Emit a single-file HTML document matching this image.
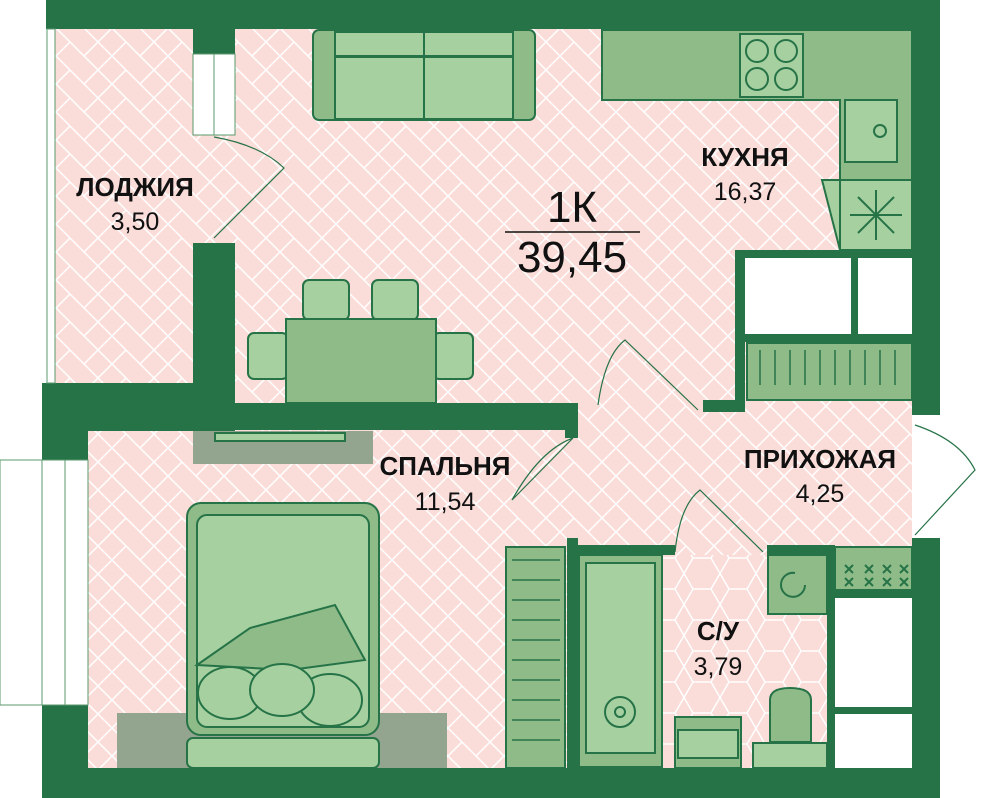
<!DOCTYPE html>
<html><head><meta charset="utf-8"><style>
html,body{margin:0;padding:0;background:#fff;width:1008px;height:798px;overflow:hidden}
svg{display:block}
text{font-family:"Liberation Sans",sans-serif}
</style></head><body>
<svg width="1008" height="798" viewBox="0 0 1008 798" xmlns="http://www.w3.org/2000/svg">
<defs>
<pattern id="hb" width="56" height="28" patternUnits="userSpaceOnUse">
<rect width="56" height="28" fill="#fadcd8"/>
<path d="M0 0 L28 28 L56 0 M0 -28 L28 0 L56 -28 M0 28 L28 56 L56 28 M14 14 L0 28 M42 14 L56 28 M28 0 L42 14" stroke="#fff" stroke-width="1.5" fill="none"/>
</pattern>
<pattern id="hex" width="36" height="31" patternUnits="userSpaceOnUse">
<rect width="36" height="31" fill="#fadcd8"/>
<path d="M0 15.5 L9 0 L27 0 L36 15.5 L27 31 L9 31 Z" stroke="#fff" stroke-width="1.5" fill="none"/>
</pattern>
</defs>
<rect x="55" y="28" width="860" height="740" fill="url(#hb)"/>
<rect x="578" y="555" width="250" height="213" fill="url(#hex)"/>
<rect x="835" y="555" width="77" height="213" fill="#fff"/>
<rect x="743" y="258" width="169" height="77" fill="#fff"/>
<rect x="912" y="415" width="30" height="125" fill="#fff"/>
<rect x="0" y="460" width="42" height="245" fill="#fff" stroke="#5a9a6c"/>
<g fill="#267347">
<rect x="46" y="0" width="894" height="29"/>
<rect x="912" y="0" width="28" height="415"/>
<rect x="912" y="538" width="28" height="260"/>
<rect x="42" y="768" width="898" height="30"/>
<rect x="42" y="383" width="46" height="415"/>
<rect x="42" y="383" width="193" height="48"/>
<rect x="193" y="29" width="42" height="25"/>
<rect x="193" y="243" width="42" height="188"/>
<rect x="235" y="403" width="343" height="27"/>
<rect x="565" y="430" width="13" height="8"/>
<rect x="735" y="250" width="177" height="8"/>
<rect x="735" y="250" width="10" height="162"/>
<rect x="703" y="400" width="42" height="12"/>
<rect x="851" y="258" width="7" height="77"/>
<rect x="745" y="334" width="167" height="8"/>
<rect x="567" y="545" width="108" height="10"/>
<rect x="567" y="538" width="11" height="230"/>
<rect x="767" y="545" width="68" height="10"/>
<rect x="827" y="545" width="8" height="223"/>
<rect x="835" y="590" width="77" height="8"/>
<rect x="835" y="707" width="77" height="7"/>
</g>
<rect x="47" y="29" width="8" height="354" fill="#fff" stroke="#5a9a6c"/>
<rect x="42" y="460" width="46" height="245" fill="#fff" stroke="#5a9a6c"/>
<line x1="65" y1="460" x2="65" y2="705" stroke="#5a9a6c"/>
<rect x="193" y="54" width="42" height="81" fill="#fff" stroke="#5a9a6c"/>
<line x1="214" y1="54" x2="214" y2="135" stroke="#5a9a6c"/>
<g stroke="#267347" fill="none" stroke-width="1.2">
<path d="M214 137 Q260 145 284 168 L214 238"/>
<path d="M598 405 Q605 355 625 340 L698 410"/>
<path d="M512 500 Q540 450 573 438 L512 500"/>
<path d="M675 552 Q680 505 700 490 L763 552"/>
<path d="M915 425 Q960 440 975 470 L915 535"/>
</g>
<g stroke="#267347" stroke-width="2">
<path d="M602 30 H912 V180 H840 V100 H602 Z" fill="#8fbb89"/>
<rect x="740" y="34" width="63" height="63" fill="#a6d09f"/>
<circle cx="757" cy="51" r="11" fill="none"/><circle cx="786" cy="51" r="11" fill="none"/>
<circle cx="757" cy="79" r="11" fill="none"/><circle cx="786" cy="79" r="11" fill="none"/>
<rect x="845" y="100" width="52" height="62" fill="#a6d09f"/>
<circle cx="880" cy="131" r="6" fill="none"/>
<path d="M822 180 H912 V250 H840 Z" fill="#a6d09f"/>
<line x1="840" y1="180" x2="840" y2="250"/>
<path d="M876 190 V240 M850 215 H902 M858 197 L894 233 M894 197 L858 233" fill="none"/>
<rect x="747" y="343" width="165" height="57" fill="#8fbb89"/>
<rect x="506" y="547" width="59" height="221" fill="#8fbb89"/>
<rect x="579" y="555" width="83" height="212" fill="#8fbb89"/>
<rect x="586" y="563" width="69" height="190" fill="#a6d09f"/>
<circle cx="620" cy="712" r="15" fill="none"/><circle cx="620" cy="712" r="5" fill="none"/>
<rect x="768" y="555" width="59" height="59" fill="#8fbb89"/>
<rect x="835" y="547" width="77" height="43" fill="#8fbb89"/>
<rect x="675" y="717" width="66" height="51" fill="#8fbb89"/>
<rect x="678" y="730" width="60" height="28" fill="#a6d09f"/>
<path d="M770 742 V700 Q770 688 790 688 Q811 688 811 700 V742 Z" fill="#8fbb89"/>
<rect x="753" y="743" width="74" height="25" fill="#a6d09f"/>
<rect x="313" y="30" width="222" height="90" rx="6" fill="#8fbb89"/>
<rect x="335" y="57" width="178" height="62" fill="#a6d09f"/>
<rect x="335" y="32" width="178" height="24" fill="#a6d09f"/>
<line x1="424" y1="32" x2="424" y2="119"/>
<rect x="248" y="333" width="40" height="46" rx="6" fill="#a6d09f"/>
<rect x="433" y="333" width="40" height="46" rx="6" fill="#a6d09f"/>
<rect x="303" y="280" width="46" height="40" rx="6" fill="#a6d09f"/>
<rect x="372" y="280" width="46" height="40" rx="6" fill="#a6d09f"/>
<rect x="286" y="319" width="150" height="84" fill="#8fbb89"/>
<rect x="193" y="431" width="180" height="33" fill="#93a58e" stroke="none"/>
<rect x="215" y="433" width="130" height="8" fill="#a6d09f"/>
<rect x="117" y="713" width="330" height="55" fill="#93a58e" stroke="none"/>
<rect x="187" y="738" width="192" height="30" rx="6" fill="#a6d09f"/>
<rect x="187" y="503" width="192" height="232" rx="14" fill="#8fbb89"/>
<rect x="197" y="515" width="172" height="212" rx="10" fill="#a6d09f"/>
<path d="M197 665 L250 628 L335 605 L365 660 L290 670 Z" fill="#8fbb89"/>
<ellipse cx="230" cy="693" rx="32" ry="26" fill="#a6d09f"/>
<ellipse cx="330" cy="700" rx="32" ry="26" fill="#a6d09f"/>
<ellipse cx="282" cy="690" rx="32" ry="26" fill="#a6d09f"/>
</g>
<g stroke="#267347" stroke-width="1.5">
<path d="M760 350 V385 M775 350 V385 M790 350 V385 M805 350 V385 M820 350 V385 M835 350 V385 M850 350 V385 M865 350 V385 M880 350 V385 M895 350 V385"/>
<path d="M512 560 H560 M512 580 H560 M512 600 H560 M512 620 H560 M512 640 H560 M512 660 H560 M512 680 H560 M512 700 H560 M512 720 H560 M512 740 H560"/>
<path d="M795 573 a12 12 0 1 0 10 12" fill="none" stroke-width="2"/>
<path d="M845 565 l8 8 M853 565 l-8 8 M865 565 l8 8 M873 565 l-8 8 M883 565 l8 8 M891 565 l-8 8 M900 565 l8 8 M908 565 l-8 8 M845 578 l8 8 M853 578 l-8 8 M865 578 l8 8 M873 578 l-8 8 M883 578 l8 8 M891 578 l-8 8 M900 578 l8 8 M908 578 l-8 8" stroke-width="2"/>
</g>
<g fill="#111" text-anchor="middle">
<text x="135" y="196" font-size="26" font-weight="bold">ЛОДЖИЯ</text>
<text x="135" y="230" font-size="25">3,50</text>
<text x="745" y="166" font-size="26" font-weight="bold">КУХНЯ</text>
<text x="745" y="200" font-size="25">16,37</text>
<text x="572" y="222" font-size="44">1К</text>
<line x1="505" y1="232" x2="640" y2="232" stroke="#111" stroke-width="1.5"/>
<text x="572" y="272" font-size="44">39,45</text>
<text x="445" y="475" font-size="26" font-weight="bold">СПАЛЬНЯ</text>
<text x="445" y="510" font-size="25">11,54</text>
<text x="820" y="468" font-size="26" font-weight="bold">ПРИХОЖАЯ</text>
<text x="820" y="502" font-size="25">4,25</text>
<text x="718" y="640" font-size="26" font-weight="bold">С/У</text>
<text x="718" y="675" font-size="25">3,79</text>
</g>
</svg>
</body></html>
